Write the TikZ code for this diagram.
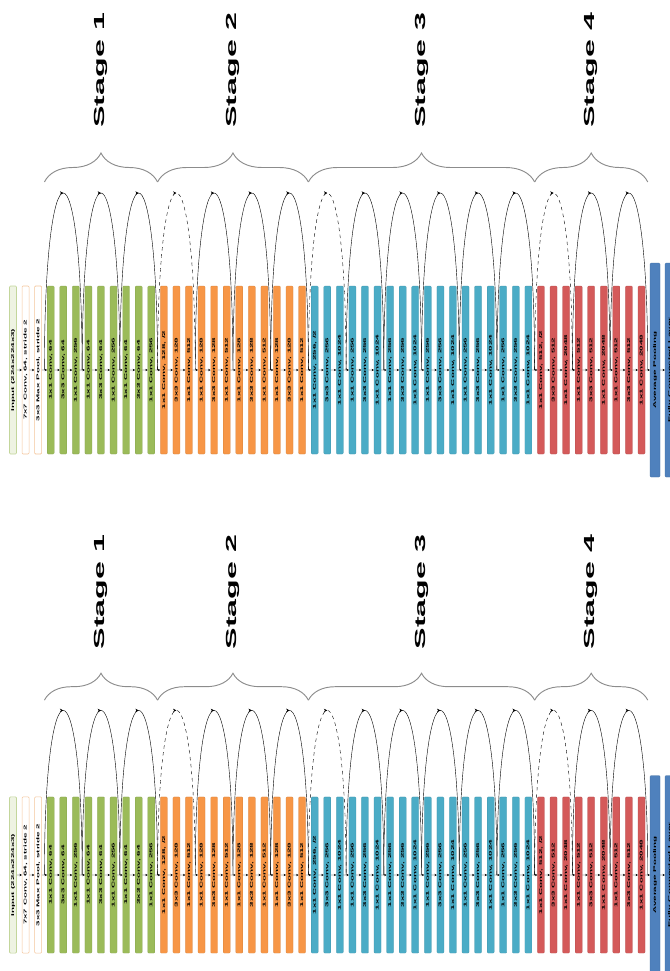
\documentclass[tikz,border=0pt]{standalone}
\usepackage{fontspec}
\setmainfont{Liberation Sans}
\usetikzlibrary{arrows.meta}
\usetikzlibrary{calc}
\usetikzlibrary{decorations.pathreplacing}
\usetikzlibrary{decorations.markings}
\definecolor{stgone}{HTML}{9BBB59}
\definecolor{stgtwo}{HTML}{F79646}
\definecolor{stgthree}{HTML}{4BACC6}
\definecolor{stgfour}{HTML}{D45A5A}
\definecolor{headblue}{HTML}{4F81BD}
\definecolor{inpfill}{HTML}{EEF3E2}
\definecolor{inpline}{HTML}{C3D69B}
\definecolor{stemline}{HTML}{F4C59A}
\definecolor{bracegray}{HTML}{8C8C8C}
\tikzset{
  % one bar of the network, its text runs up the bar
  layer/.style={rectangle, rotate=90, xscale=2.4, rounded corners=0.3mm,
    inner sep=0pt, minimum height=2.1mm, minimum width=\barlen,
    fill=#1, draw=#1!85!black, line width=0.2pt,
    font=\fontsize{3.5}{4}\selectfont\bfseries},
  inputbar/.style={layer=inpfill, draw=inpline, line width=0.5pt},
  stembar/.style={layer=white, draw=stemline, line width=0.5pt},
  headbar/.style={layer=headblue, minimum width=\headlen, minimum height=3mm},
  % connections
  flow/.style={-{Stealth[length=0.7mm, width=0.7mm]}, line width=0.3pt},
  shortcut/.style={line width=0.35pt, postaction={decorate},
    decoration={markings, mark=at position 0.5 with {\arrow{Stealth[length=1mm, width=1mm]}}}},
  projcut/.style={shortcut, dashed},
  % stage grouping
  stagebrace/.style={decorate, decoration={brace, amplitude=#1}, draw=bracegray, line width=0.8pt},
  stagelbl/.style={rotate=90, xscale=2.2, anchor=west, inner sep=0pt,
    font=\fontsize{12.5}{14}\selectfont\bfseries},
}

\begin{document}
\begin{tikzpicture}[x=0.3mm, y=-0.3mm]
  \useasboundingbox (0,0) rectangle (670,971);

  \foreach \cp/\yc/\sc in {a/370/1, b/875/0.93} {
    \pgfmathsetlengthmacro\barlen{21mm*\sc}
    \pgfmathsetlengthmacro\headlen{26.75mm*\sc}
    \pgfmathsetlengthmacro\brampl{8.7mm*\sc}
    \begin{scope}[shift={(0,\yc)}, yscale=\sc]

      % stem
      \node[inputbar] (\cp-0) at (13,0)    {Input (224x224x3)};
      \node[stembar]  (\cp-1) at (25.57,0) {7x7 Conv, 64, stride 2};
      \node[stembar]  (\cp-2) at (38.14,0) {3x3 Max Pool, stride 2};

      % bottleneck blocks
      \foreach \s/\first/\nb/\cmid/\cout/\col in
          {1/3/3/64/256/stgone, 2/12/4/128/512/stgtwo,
           3/24/6/256/1024/stgthree, 4/42/3/512/2048/stgfour} {
        \foreach \k in {1,...,\nb} {
          \pgfmathtruncatemacro\ia{\first+3*(\k-1)}
          \pgfmathtruncatemacro\ib{\ia+1}
          \pgfmathtruncatemacro\ic{\ia+2}
          \node[layer=\col] (\cp-\ia) at (13+12.57*\ia,0)
            {1x1 Conv, \cmid\ifnum\k=1\ifnum\s>1, /2\fi\fi};
          \node[layer=\col] (\cp-\ib) at (13+12.57*\ib,0) {3x3 Conv, \cmid};
          \node[layer=\col] (\cp-\ic) at (13+12.57*\ic,0) {1x1 Conv, \cout};
        }
      }

      % head
      \node[headbar] (\cp-51) at (655,0) {Average Pooling};
      \node[headbar] (\cp-52) at (670,0) {Fully Connected Layer};

      \foreach \p in {0,...,51} {
        \pgfmathtruncatemacro\q{\p+1}
        \draw[flow] (\cp-\p) -- (\cp-\q);
      }

      \foreach \p in {2,...,50}
        \coordinate (\cp-gap\p) at ({13+12.57*(\p+0.5)},0);

      % shortcuts, braces and stage names
      \foreach \s/\first/\nb in {1/3/3, 2/12/4, 3/24/6, 4/42/3} {
        \foreach \k in {1,...,\nb} {
          \pgfmathtruncatemacro\ga{\first+3*\k-4}
          \pgfmathtruncatemacro\gb{\ga+3}
          \pgfmathtruncatemacro\isproj{(\k==1)*(\s>1)}
          \ifnum\isproj=1
            \draw[projcut] (\cp-gap\ga) .. controls +(0,-236) and +(0,-236) .. (\cp-gap\gb);
          \else
            \draw[shortcut] (\cp-gap\ga) .. controls +(0,-236) and +(0,-236) .. (\cp-gap\gb);
          \fi
        }
        \pgfmathsetmacro\xa{13+12.57*(\first-0.5)}
        \pgfmathsetmacro\xb{13+12.57*(\first+3*\nb-0.5)}
        \coordinate (\cp-bs\s) at (\xa,-188);
        \coordinate (\cp-be\s) at (\xb,-188);
        \draw[stagebrace=\brampl] (\cp-bs\s) -- (\cp-be\s);
        \node[stagelbl] (\cp-st\s) at ({(\xa+\xb)/2},-242) {Stage \s};
      }
    \end{scope}
  }
\end{tikzpicture}
\end{document}
